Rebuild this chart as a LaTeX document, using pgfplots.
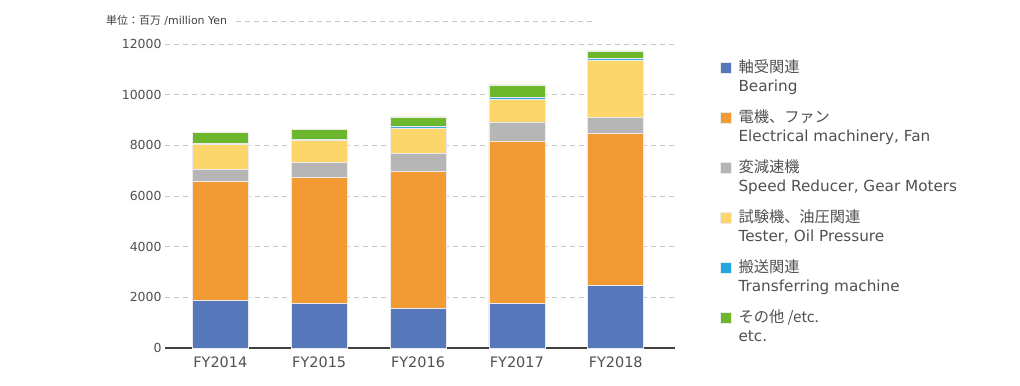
\documentclass[border=0pt]{standalone}
\usepackage{fontspec}
\setmainfont{DejaVu Sans}
\newfontfamily\jp{Noto Sans CJK JP}
\usepackage{pgfplots}
\pgfplotsset{compat=1.18}
\definecolor{cBear}{RGB}{86,120,187}
\definecolor{cElec}{RGB}{242,154,51}
\definecolor{cGear}{RGB}{181,182,181}
\definecolor{cTest}{RGB}{252,214,106}
\definecolor{cTran}{RGB}{36,167,224}
\definecolor{cEtc}{RGB}{109,183,44}
\definecolor{txt}{RGB}{80,80,80}
\newcommand{\ent}[2]{\begin{tabular}[t]{@{}l@{}}{\jp #1}\\[1bp]#2\end{tabular}}
\begin{document}
\begin{tikzpicture}[x=1bp,y=1bp]
\useasboundingbox (0,0) rectangle (1020,385);
\begin{axis}[
  at={(165bp,37bp)}, anchor=south west,
  scale only axis, width=510bp, height=304bp,
  xmin=-0.56, xmax=4.6, ymin=0, ymax=12000,
  ybar stacked, bar width=56bp,
  axis lines*=left,
  y axis line style={draw=none},
  x axis line style={draw=txt!80!black, line width=1.2bp},
  major tick length=0pt,
  xtick={0,1,2,3,4},
  xticklabels={FY2014,FY2015,FY2016,FY2017,FY2018},
  ytick={0,2000,4000,6000,8000,10000,12000},
  ymajorgrids,
  grid style={draw=black!22, dash pattern=on 5bp off 4bp, line width=0.8bp},
  scaled y ticks=false,
  yticklabel style={/pgf/number format/set thousands separator={}, /pgf/number format/assume math mode=true, font=\fontsize{12.5}{15}\selectfont, text=txt},
  xticklabel style={font=\fontsize{14.5}{17}\selectfont, text=txt, yshift=-5bp},
  every axis plot/.append style={draw=white!92!black, line width=0.5bp},
  legend style={at={(1.082,0.955)}, anchor=north west, draw=none, fill=none,
    font=\fontsize{15.3}{18}\selectfont, text=txt,
    cells={anchor=base west}, nodes={inner sep=0pt}, row sep=35.6bp, column sep=7bp},
  legend image code/.code={\fill[#1] (0bp,-1bp) rectangle (11bp,10bp);},
]
\addplot[fill=cBear] coordinates {(0,1875) (1,1757) (2,1576) (3,1757) (4,2466)};
\addplot[fill=cElec] coordinates {(0,4715) (1,4965) (2,5398) (3,6423) (4,6005)};
\addplot[fill=cGear] coordinates {(0,475) (1,606) (2,694) (3,748) (4,642)};
\addplot[fill=cTest] coordinates {(0,985) (1,891) (2,1024) (3,894) (4,2258)};
\addplot[fill=cTran] coordinates {(0,25) (1,40) (2,75) (3,65) (4,65)};
\addplot[fill=cEtc] coordinates {(0,442) (1,381) (2,358) (3,499) (4,289)};
\legend{\ent{軸受関連}{Bearing},
        \ent{電機、ファン}{Electrical machinery, Fan},
        \ent{変減速機}{Speed Reducer, Gear Moters},
        \ent{試験機、油圧関連}{Tester, Oil Pressure},
        \ent{搬送関連}{Transferring machine},
        \ent{その他 /etc.}{etc.}}
\end{axis}
\draw[black!22, dash pattern=on 5bp off 4bp, line width=0.8bp] (236,364) -- (593,364);
\node[anchor=base west, inner sep=0pt, text=txt!80!black, font=\fontsize{11}{13}\selectfont] at (106,361) {{\jp 単位：百万} /million Yen};
\end{tikzpicture}
\end{document}
